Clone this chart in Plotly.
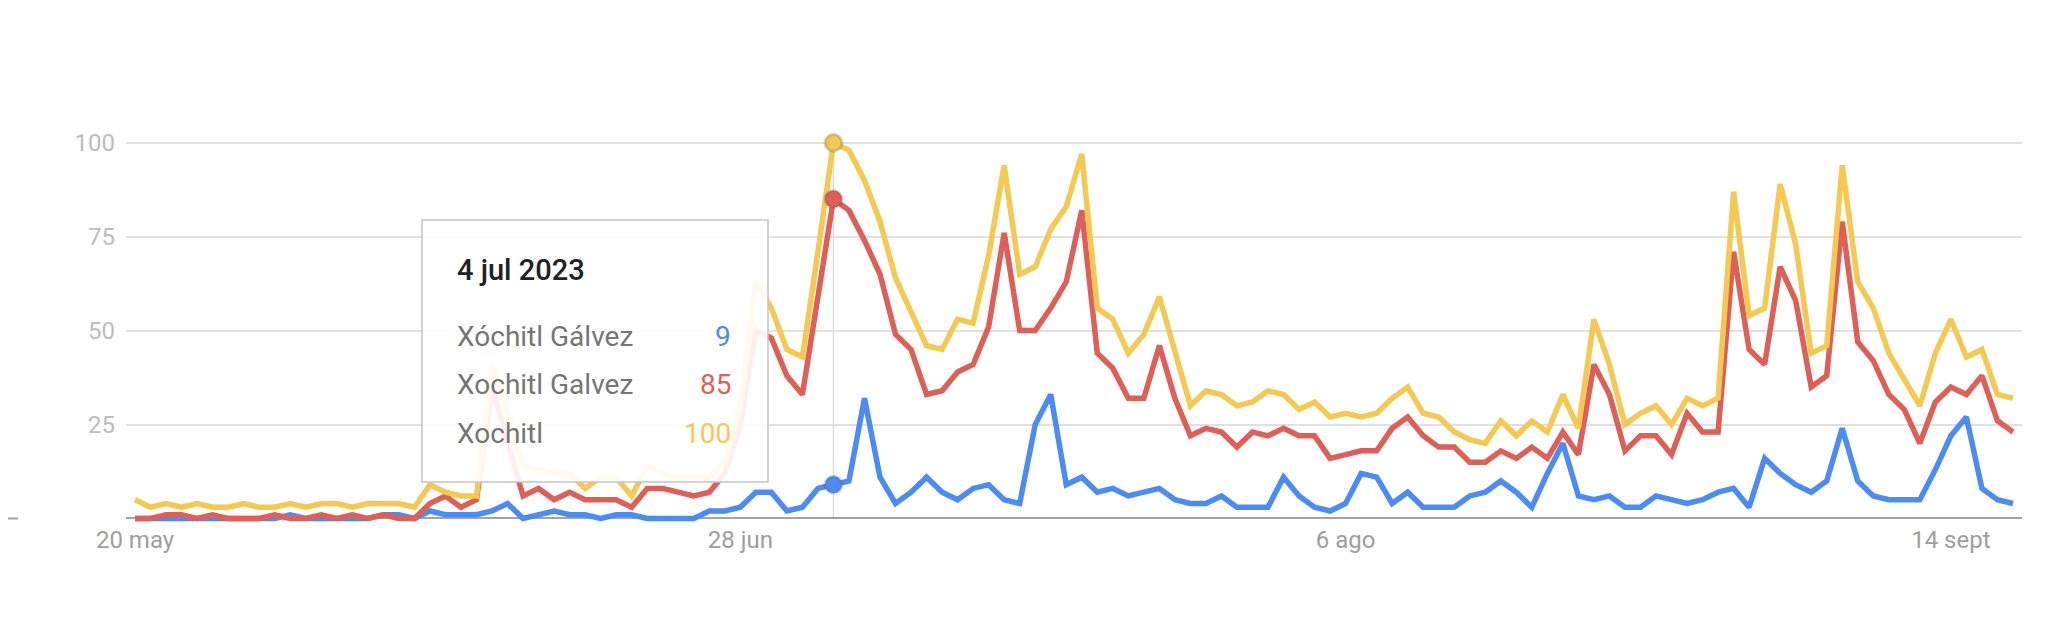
import pandas as pd
import plotly.graph_objects as go

# Google Trends style comparison, daily interest (0-100), 20 May - 18 Sept 2023
START_DATE = "2023-05-20"
HOVER_DATE = "2023-07-04"
HOVER_LABEL = "4 jul 2023"

SERIES_NAMES = ["Xóchitl Gálvez", "Xochitl Galvez", "Xochitl"]

xochitl_galvez_acc = [
    0, 0, 0, 0, 0, 0, 0, 0, 0, 0, 1, 0, 0, 0, 0, 0, 1, 1, 0,
    2, 1, 1, 1, 2, 4,
    0, 1, 2, 1, 1, 0, 1, 1, 0, 0, 0, 0, 2, 2, 3,
    7, 7, 2, 3, 8,
    9, 10, 32, 11, 4, 7, 11, 7, 5,
    8, 9, 5, 4, 25, 33, 9, 11, 7, 8, 6, 7, 8, 5, 4, 4, 6, 3,
    3, 3, 11, 6, 3, 2, 4, 12, 11, 4, 7, 3, 3, 3, 6, 7, 10, 7,
    3, 12, 20, 6, 5, 6, 3, 3, 6, 5, 4, 5, 7, 8, 3, 16, 12, 9,
    7, 10, 24, 10, 6, 5, 5, 5, 13, 22, 27, 8, 5, 4,
]

xochitl_galvez = [
    0, 0, 1, 1, 0, 1, 0, 0, 0, 1, 0, 0, 1, 0, 1, 0, 1, 0, 0,
    4, 6, 3, 5, 35, 20,
    6, 8, 5, 7, 5, 5, 5, 3, 8, 8, 7, 6, 7, 12, 25,
    50, 48, 38, 33, 59,
    85, 82, 74, 65, 49, 45, 33, 34, 39,
    41, 51, 76, 50, 50, 56, 63, 82, 44, 40, 32, 32, 46, 32, 22, 24, 23, 19,
    23, 22, 24, 22, 22, 16, 17, 18, 18, 24, 27, 22, 19, 19, 15, 15, 18, 16,
    19, 16, 23, 17, 41, 33, 18, 22, 22, 17, 28, 23, 23, 71, 45, 41, 67, 58,
    35, 38, 79, 47, 42, 33, 29, 20, 31, 35, 33, 38, 26, 23,
]

xochitl = [
    5, 3, 4, 3, 4, 3, 3, 4, 3, 3, 4, 3, 4, 4, 3, 4, 4, 4, 3,
    9, 7, 6, 6, 41, 28,
    14, 13, 12, 12, 8, 11, 11, 6, 14, 12, 11, 11, 11, 15, 30,
    63, 56, 45, 43, 71,
    100, 98, 90, 79, 64, 55, 46, 45, 53,
    52, 70, 94, 65, 67, 77, 83, 97, 56, 53, 44, 49, 59, 45, 30, 34, 33, 30,
    31, 34, 33, 29, 31, 27, 28, 27, 28, 32, 35, 28, 27, 23, 21, 20, 26, 22,
    26, 23, 33, 24, 53, 41, 25, 28, 30, 25, 32, 30, 32, 87, 54, 56, 89, 73,
    44, 46, 94, 63, 56, 44, 37, 30, 44, 53, 43, 45, 33, 32,
]

TICK_DATES = ["2023-05-20", "2023-06-28", "2023-08-06", "2023-09-14"]
TICK_TEXT = ["20 may", "28 jun", "6 ago", "14 sept"]
Y_TICKS = [25, 50, 75, 100]

COLORS = {
    "blue": "#4a8bf5",
    "red": "#df5f57",
    "yellow": "#f5c850",
    "grid": "#e0e0e0",
    "base": "#a3a3a3",
    "ytick": "#bdbdbd",
    "xtick": "#9e9e9e",
    "label": "#757575",
    "title": "#202124",
}
LINE_COLORS = [COLORS["blue"], COLORS["red"], COLORS["yellow"]]

# the page body has an 8px margin, so the figure is shifted by that much
OFF = 8
W, H = 2067 - OFF, 620 - OFF
PLOT_L, PLOT_R, PLOT_T, PLOT_B = 126 - OFF, 2022 - OFF, 139 - OFF, 523 - OFF


def px_x(px):
    # px given in screenshot coordinates
    return (px - OFF - PLOT_L) / (PLOT_R - PLOT_L)


def px_y(py):
    return (PLOT_B - (py - OFF)) / (PLOT_B - PLOT_T)


series = [xochitl_galvez_acc, xochitl_galvez, xochitl]
dates = pd.date_range(START_DATE, periods=len(xochitl), freq="D")
hover_idx = dates.get_loc(pd.Timestamp(HOVER_DATE))

fig = go.Figure()
for name, values, color in zip(SERIES_NAMES, series, LINE_COLORS):
    fig.add_trace(
        go.Scatter(
            x=dates,
            y=values,
            name=name,
            mode="lines",
            line=dict(color=color, width=5.5),
        )
    )

# hover dots on the highlighted day
fig.add_trace(
    go.Scatter(
        x=[dates[hover_idx]] * len(series),
        y=[s[hover_idx] for s in series],
        mode="markers",
        marker=dict(size=17, color=LINE_COLORS, line=dict(color="rgba(90,90,90,0.25)", width=3)),
        showlegend=False,
        cliponaxis=False,
    )
)

# hover guide line
fig.add_shape(
    type="line",
    x0=dates[hover_idx], x1=dates[hover_idx], y0=0, y1=100,
    xref="x", yref="y",
    line=dict(color="#dcdcdc", width=1.5),
    layer="below",
)

# stray baseline stub at the far left of the screenshot
fig.add_shape(
    type="line",
    x0=px_x(0), x1=px_x(18), y0=0, y1=0,
    xref="paper", yref="y",
    line=dict(color=COLORS["base"], width=2),
)

# tooltip box
fig.add_shape(
    type="rect",
    x0=px_x(422), x1=px_x(768), y0=px_y(482), y1=px_y(220),
    xref="paper", yref="paper",
    fillcolor="rgba(255,255,255,0.9)",
    line=dict(color="#c4c4c4", width=1.5),
    layer="above",
)
fig.add_annotation(
    x=px_x(455), y=px_y(270), xref="paper", yref="paper",
    text=HOVER_LABEL, showarrow=False, xanchor="left", yanchor="middle",
    font=dict(family="Roboto", size=29, color=COLORS["title"], weight=500),
)
for row_y, name, values, color in zip([336, 384, 433], SERIES_NAMES, series, LINE_COLORS):
    fig.add_annotation(
        x=px_x(455), y=px_y(row_y), xref="paper", yref="paper",
        text=name, showarrow=False, xanchor="left", yanchor="middle",
        font=dict(family="Roboto", size=28, color=COLORS["label"]),
    )
    fig.add_annotation(
        x=px_x(733), y=px_y(row_y), xref="paper", yref="paper",
        text=str(values[hover_idx]), showarrow=False, xanchor="right", yanchor="middle",
        font=dict(family="Roboto", size=28, color=color),
    )

half_day = pd.Timedelta(hours=14)
fig.update_layout(
    width=W,
    height=H,
    paper_bgcolor="white",
    plot_bgcolor="white",
    margin=dict(l=PLOT_L, r=W - PLOT_R, t=PLOT_T, b=H - PLOT_B, pad=0),
    showlegend=False,
    font=dict(family="Roboto"),
)
fig.update_xaxes(
    range=[dates[0] - half_day, dates[-1] + half_day],
    tickvals=pd.to_datetime(TICK_DATES),
    ticktext=TICK_TEXT,
    tickfont=dict(family="Roboto", size=24, color=COLORS["xtick"]),
    showgrid=False,
    zeroline=False,
    showline=False,
    ticks="",
)
fig.update_yaxes(
    range=[-1.2, 101],
    tickvals=Y_TICKS,
    tickfont=dict(family="Roboto", size=24, color=COLORS["ytick"]),
    gridcolor=COLORS["grid"],
    gridwidth=1.5,
    zeroline=True,
    zerolinecolor=COLORS["base"],
    zerolinewidth=2,
    showline=False,
    ticks="",
    ticklabelstandoff=10,
)

fig.write_html("out.html")
